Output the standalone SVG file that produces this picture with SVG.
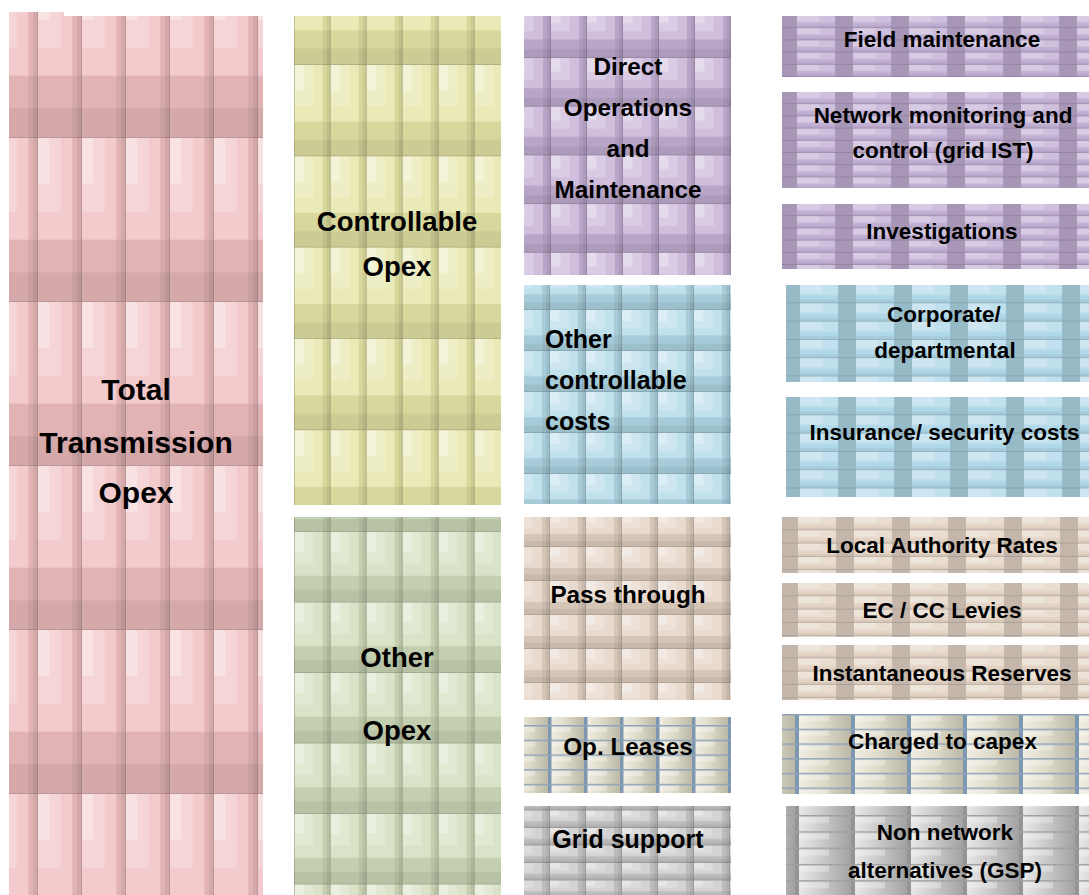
<svg xmlns="http://www.w3.org/2000/svg" width="1089" height="895" viewBox="0 0 1089 895">
<style>
.w1{fill:#fff;fill-opacity:.2}
.w2{fill:#fff;fill-opacity:.3}
.k1{fill:#000;fill-opacity:.06}
.k2{fill:#000;fill-opacity:.14}
.seam{fill:none;stroke:#000;stroke-opacity:.12;stroke-width:2}
.t{font-family:"Liberation Sans",Arial,sans-serif;font-weight:bold;fill:#000;text-anchor:middle}
.l{text-anchor:start}
.f30{font-size:30px}
.f27{font-size:27.5px}
.f25{font-size:25px}
.f24{font-size:24.3px}
.f22{font-size:22.5px}
</style>
<defs>
  <!-- bevelled tile: light top-left, darker right strip and lower band -->
  <symbol id="tv" viewBox="0 0 100 100" preserveAspectRatio="none">
    <rect width="100" height="100"/>
    <rect width="78" height="62" class="w1"/>
    <rect width="52" height="45" class="w1"/>
    <rect width="26" height="28" class="w2"/>
    <rect x="78" width="22" height="100" class="k1"/>
    <rect x="89" width="11" height="100" class="k1"/>
    <rect y="62" width="100" height="38" class="k1"/>
    <rect y="82" width="100" height="18" class="k1"/>
    <path d="M100 0V100M0 100H100" class="seam" vector-effect="non-scaling-stroke"/>
  </symbol>
  <!-- horizontal brick with a dark vertical band -->
  <symbol id="tb" viewBox="0 0 100 100" preserveAspectRatio="none">
    <rect width="100" height="100"/>
    <rect width="68" height="55" class="w1"/>
    <rect width="40" height="45" class="w1"/>
    <rect x="68" width="32" height="100" class="k2"/>
    <rect y="80" width="68" height="20" class="k1"/>
    <path d="M0 100H100" class="seam" vector-effect="non-scaling-stroke"/>
  </symbol>
  <linearGradient id="gCream">
    <stop offset="0" stop-color="#f3f1e6"/>
    <stop offset=".5" stop-color="#dedac9"/>
    <stop offset="1" stop-color="#bcb8a6"/>
  </linearGradient>
  <linearGradient id="gGray">
    <stop offset="0" stop-color="#ececec"/>
    <stop offset=".5" stop-color="#c9c9c9"/>
    <stop offset="1" stop-color="#a2a2a2"/>
  </linearGradient>

  <!-- fills for the left and middle columns -->
  <pattern id="pPink" patternUnits="userSpaceOnUse" x="38" y="302" width="44" height="164"><use href="#tv" width="44" height="164" fill="#f0bec0"/></pattern>
  <pattern id="pYel" patternUnits="userSpaceOnUse" x="330.7" y="65" width="36" height="91.3"><use href="#tv" width="36" height="91.3" fill="#e5e5a6"/></pattern>
  <pattern id="pGrn" patternUnits="userSpaceOnUse" x="330.7" y="532" width="36" height="70.5"><use href="#tv" width="36" height="70.5" fill="#d0dcba"/></pattern>
  <pattern id="pPur" patternUnits="userSpaceOnUse" x="551" y="58" width="36" height="48.7"><use href="#tv" width="36" height="48.7" fill="#c3afd4"/></pattern>
  <pattern id="pBlu" patternUnits="userSpaceOnUse" x="550" y="310" width="36" height="41"><use href="#tv" width="36" height="41" fill="#b0d8e7"/></pattern>
  <pattern id="pTan" patternUnits="userSpaceOnUse" x="550" y="547" width="36" height="34"><use href="#tv" width="36" height="34" fill="#e2d1c2"/></pattern>
  <pattern id="pGry" patternUnits="userSpaceOnUse" x="550" y="828" width="36" height="17.5"><use href="#tv" width="36" height="17.5" fill="#c8c8c8"/></pattern>
  <pattern id="pOpL" patternUnits="userSpaceOnUse" x="548" y="725" width="36" height="14.7">
    <rect width="36" height="14.7" fill="url(#gCream)"/>
    <rect x="3" width="20" height="7" class="w2"/>
    <rect width="3.5" height="14.7" fill="#7d97b0"/>
    <rect width="36" height="1.5" fill="#8ea3b8"/>
  </pattern>

  <!-- fills for the right column (origin at each box's top-left) -->
  <pattern id="pPurR" patternUnits="userSpaceOnUse" x="15" y="0" width="56" height="12.2"><use href="#tb" width="56" height="12.2" fill="#c2afd4"/></pattern>
  <pattern id="pBluR" patternUnits="userSpaceOnUse" x="14" y="0" width="56" height="18.3"><use href="#tb" width="56" height="18.3" fill="#b0d8e8"/></pattern>
  <pattern id="pTanR" patternUnits="userSpaceOnUse" x="16" y="0" width="56" height="13.3"><use href="#tb" width="56" height="13.3" fill="#e4d4c6"/></pattern>
  <pattern id="pCap" patternUnits="userSpaceOnUse" x="13" y="0" width="56" height="14.7">
    <rect width="56" height="14.7" fill="url(#gCream)"/>
    <rect x="4" width="30" height="7" class="w2"/>
    <rect width="4" height="14.7" fill="#7d97b0"/>
    <rect width="56" height="1.5" fill="#8ea3b8"/>
  </pattern>
  <pattern id="pNon" patternUnits="userSpaceOnUse" x="9" y="9" width="56" height="16.3">
    <rect width="56" height="16.3" fill="url(#gGray)"/>
    <rect x="4" width="30" height="8" class="w2"/>
    <rect width="4" height="16.3" fill="#959595"/>
    <rect width="56" height="1.5" fill="#a0a0a0"/>
  </pattern>
</defs>

<rect width="1089" height="895" fill="#fff"/>

<g id="total-opex">
  <path d="M9 12H64V16H263V895H9Z" fill="url(#pPink)"/>
  <text class="t f30" x="136" y="400">Total</text>
  <text class="t f30" x="136" y="453">Transmission</text>
  <text class="t f30" x="136" y="503">Opex</text>
</g>

<g id="controllable-opex">
  <rect x="294" y="16" width="207" height="489" fill="url(#pYel)"/>
  <text class="t f27" x="397" y="231">Controllable</text>
  <text class="t f27" x="397" y="276">Opex</text>
</g>

<g id="other-opex">
  <rect x="294" y="517" width="207" height="378" fill="url(#pGrn)"/>
  <text class="t f27" x="397" y="667">Other</text>
  <text class="t f27" x="397" y="740">Opex</text>
</g>

<g id="direct-om">
  <rect x="524" y="16" width="207" height="259" fill="url(#pPur)"/>
  <text class="t f24" x="628" y="75">Direct</text>
  <text class="t f24" x="628" y="116">Operations</text>
  <text class="t f24" x="628" y="157">and</text>
  <text class="t f24" x="628" y="198">Maintenance</text>
</g>

<g id="other-controllable">
  <rect x="524" y="285" width="207" height="219" fill="url(#pBlu)"/>
  <text class="t l f25" x="545" y="348">Other</text>
  <text class="t l f25" x="545" y="389">controllable</text>
  <text class="t l f25" x="545" y="430">costs</text>
</g>

<g id="pass-through">
  <rect x="524" y="517" width="207" height="183" fill="url(#pTan)"/>
  <text class="t f24" x="628" y="603">Pass through</text>
</g>

<g id="op-leases">
  <rect x="524" y="717" width="207" height="76" fill="url(#pOpL)"/>
  <text class="t f24" x="628" y="755">Op. Leases</text>
</g>

<g id="grid-support">
  <rect x="524" y="806" width="207" height="89" fill="url(#pGry)"/>
  <text class="t f25" x="628" y="848">Grid support</text>
</g>

<g id="field-maintenance">
  <rect transform="translate(782 16)" width="307" height="61" fill="url(#pPurR)"/>
  <text class="t f22" x="942" y="47">Field maintenance</text>
</g>

<g id="network-monitoring">
  <rect transform="translate(782 92)" width="307" height="96" fill="url(#pPurR)"/>
  <text class="t f22" x="943" y="123">Network monitoring and</text>
  <text class="t f22" x="943" y="158">control (grid IST)</text>
</g>

<g id="investigations">
  <rect transform="translate(782 204)" width="307" height="65" fill="url(#pPurR)"/>
  <text class="t f22" x="942" y="239">Investigations</text>
</g>

<g id="corporate">
  <rect transform="translate(786 285)" width="303" height="97" fill="url(#pBluR)"/>
  <text class="t f22" x="944" y="322">Corporate/</text>
  <text class="t f22" x="945" y="358">departmental</text>
</g>

<g id="insurance">
  <rect transform="translate(786 397)" width="303" height="100" fill="url(#pBluR)"/>
  <text class="t f22" x="944.5" y="440">Insurance/ security costs</text>
</g>

<g id="local-authority-rates">
  <rect transform="translate(782 517)" width="307" height="56" fill="url(#pTanR)"/>
  <text class="t f22" x="942" y="553">Local Authority Rates</text>
</g>

<g id="ec-cc-levies">
  <rect transform="translate(782 583)" width="307" height="54" fill="url(#pTanR)"/>
  <text class="t f22" x="942" y="618">EC / CC Levies</text>
</g>

<g id="instantaneous-reserves">
  <rect transform="translate(782 645)" width="307" height="55" fill="url(#pTanR)"/>
  <text class="t f22" x="942" y="681">Instantaneous Reserves</text>
</g>

<g id="charged-to-capex">
  <rect transform="translate(782 714)" width="307" height="80" fill="url(#pCap)"/>
  <text class="t f22" x="942.5" y="749">Charged to capex</text>
</g>

<g id="non-network-alternatives">
  <rect transform="translate(786 806)" width="303" height="89" fill="url(#pNon)"/>
  <text class="t f22" x="945" y="840">Non network</text>
  <text class="t f22" x="945" y="878">alternatives (GSP)</text>
</g>
</svg>
